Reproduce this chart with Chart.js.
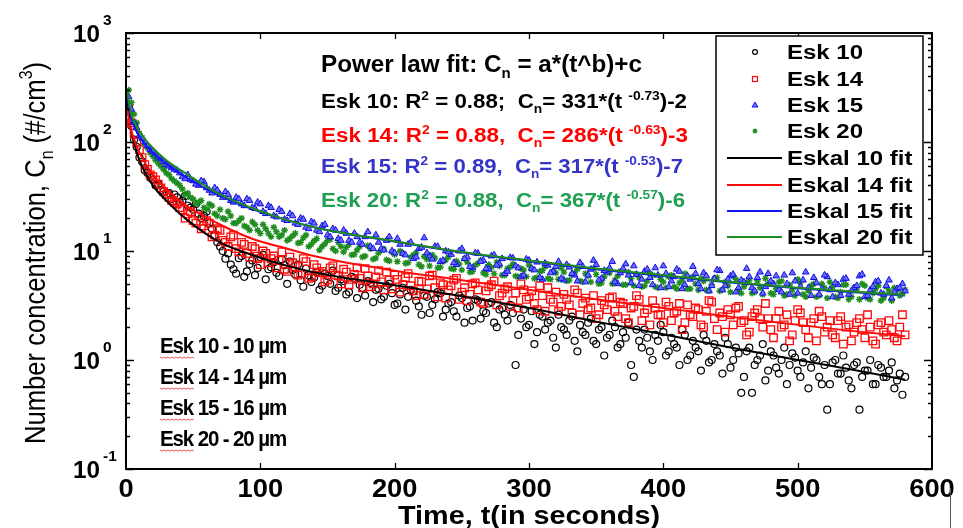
<!DOCTYPE html>
<html>
<head>
<meta charset="utf-8">
<script src="https://cdn.jsdelivr.net/npm/chart.js@4.4.0/dist/chart.umd.min.js"></script>
<style>
    html, body { margin: 0; padding: 0; background: #fff; }
    #wrap { width: 963px; height: 528px; }
</style>
</head>
<body>
<div id="wrap"><canvas id="chart" width="963" height="528"></canvas></div>
<script>
// Measured concentrations. "A" arrays: t = 2, 6, 10 ... 578 s; "B" arrays: t = 4, 8, 12 ... 580 s
const esk10A = [
    190, 105, 72, 55, 47, 40, 36, 33, 30, 31,
    29, 26, 24, 22, 21, 18, 14, 11, 8.5, 7.5,
    6.2, 9.0, 6.5, 8.2, 7.0, 9.2, 6.8, 7.9, 5.9, 7.4,
    8.0, 6.1, 5.4, 6.9, 5.2, 6.4, 4.8, 5.9, 6.6, 4.6,
    5.3, 4.2, 5.6, 4.9, 3.9, 5.1, 4.4, 3.6, 4.8, 4.1,
    3.3, 4.6, 3.8, 4.3, 3.1, 3.9, 2.7, 3.6, 4.1, 2.9,
    3.4, 2.5, 3.7, 3.0, 2.3, 3.5, 2.8, 3.3, 2.2, 2.9,
    2.6, 3.2, 0.9, 2.4, 2.0, 2.8, 1.8, 2.5, 2.2, 1.6,
    2.6, 1.9, 2.3, 1.5, 2.1, 1.7, 2.4, 1.4, 2.0, 1.6,
    2.3, 1.3, 1.8, 2.2, 0.7, 1.5, 1.9, 1.2, 1.7, 2.1,
    1.1, 1.6, 1.3, 1.9, 1.0, 1.5, 1.2, 1.7, 0.95, 1.4,
    1.1, 1.6, 0.85, 1.3, 0.5, 1.2, 0.5, 1.0, 1.4, 0.8,
    1.1, 0.75, 1.3, 0.9, 1.05, 0.7, 1.2, 0.85, 1.0, 0.6,
    0.35, 0.95, 0.75, 1.1, 0.65, 0.9, 0.35, 0.8, 1.0, 0.6,
    0.85, 0.7, 0.95, 0.65, 0.48
];
const esk10B = [
    140, 90, 66, 52, 45, 41, 35, 34, 33, 28,
    32, 25, 27, 20, 23, 16, 12, 10, 9.5, 6.8,
    8.6, 5.8, 7.6, 6.0, 8.8, 5.5, 7.1, 6.3, 8.4, 5.0,
    6.7, 7.5, 4.7, 6.0, 5.7, 4.4, 6.2, 5.0, 4.3, 5.5,
    4.0, 5.8, 3.7, 4.6, 5.3, 3.4, 4.5, 3.8, 5.0, 3.2,
    4.0, 2.9, 4.4, 3.5, 2.6, 3.8, 3.2, 4.2, 2.5, 3.3,
    2.8, 3.9, 2.2, 3.1, 3.6, 2.4, 2.7, 3.4, 2.0, 3.0,
    2.3, 2.7, 1.7, 2.9, 2.1, 1.4, 2.6, 1.9, 2.3, 1.3,
    2.0, 1.7, 2.5, 1.2, 1.8, 2.2, 1.5, 1.9, 1.1, 1.7,
    2.0, 1.4, 1.6, 0.9, 1.9, 1.3, 1.6, 1.0, 1.5, 1.8,
    1.2, 1.4, 0.9, 1.7, 1.1, 1.3, 0.8, 1.5, 1.0, 1.2,
    0.75, 1.4, 1.0, 1.15, 0.7, 1.3, 0.9, 1.1, 0.65, 1.2,
    0.85, 1.0, 0.6, 1.15, 0.8, 0.95, 0.55, 1.05, 0.7, 0.9,
    0.6, 1.0, 0.75, 0.85, 0.55, 0.95, 0.7, 0.8, 0.6, 0.9,
    0.7, 0.8, 0.55, 0.75, 0.7
];
const esk14A = [
    210, 120, 85, 62, 50, 45, 38, 33, 29, 27,
    24, 22, 19, 21, 17, 18, 14, 15.5, 12, 13.5,
    10.5, 12, 9.5, 11, 8.5, 10, 7.8, 9.0, 8.2, 6.8,
    8.8, 7.2, 6.2, 8.0, 5.8, 7.0, 6.5, 5.4, 7.3, 5.9,
    6.8, 4.9, 6.1, 5.6, 6.9, 4.7, 5.8, 5.2, 6.4, 4.5,
    5.5, 4.9, 6.2, 4.3, 5.3, 4.0, 5.9, 4.6, 5.1, 3.7,
    4.8, 5.6, 4.2, 3.5, 5.0, 4.4, 3.3, 4.7, 5.3, 3.9,
    4.5, 3.1, 4.1, 5.0, 3.6, 4.3, 2.9, 3.9, 4.6, 3.4,
    2.8, 4.0, 3.2, 4.4, 2.6, 3.7, 3.0, 2.4, 3.5, 2.9,
    3.8, 2.5, 3.3, 2.2, 3.1, 3.6, 2.7, 2.1, 3.0, 2.6,
    3.4, 2.3, 2.8, 1.9, 3.2, 2.5, 2.9, 2.0, 3.5, 2.4,
    2.7, 1.8, 2.6, 3.0, 2.2, 1.7, 2.5, 2.9, 2.0, 2.4,
    1.6, 2.8, 2.1, 1.5, 2.3, 2.7, 1.9, 2.2, 1.5, 2.5,
    2.0, 1.7, 2.3, 1.4, 2.1, 1.8, 2.4, 1.6, 2.0, 1.4,
    2.2, 1.7, 1.9, 1.5, 2.6
];
const esk14B = [
    150, 100, 72, 56, 48, 41, 35, 31, 28, 25,
    20, 23, 18, 16, 19, 13.5, 16, 12.5, 11, 14,
    9.8, 11.5, 8.8, 10.5, 7.5, 9.5, 8.5, 7.0, 9.8, 6.5,
    7.8, 6.0, 8.5, 5.6, 7.5, 6.3, 5.2, 7.0, 6.0, 5.0,
    6.4, 5.5, 7.0, 4.6, 5.9, 5.0, 6.6, 4.4, 5.4, 6.0,
    4.2, 5.7, 4.8, 3.9, 5.2, 4.5, 6.0, 3.8, 4.9, 4.4,
    5.4, 3.6, 4.6, 4.0, 5.1, 3.4, 4.3, 4.9, 3.2, 4.1,
    4.7, 3.5, 3.0, 4.4, 3.8, 3.3, 4.8, 2.8, 3.6, 4.2,
    3.1, 3.6, 2.7, 4.1, 3.3, 2.9, 3.9, 2.6, 3.2, 3.7,
    2.8, 3.4, 2.4, 3.0, 3.9, 2.3, 2.9, 3.5, 2.6, 2.2,
    3.1, 2.7, 3.3, 2.2, 2.6, 3.0, 2.1, 2.8, 3.4, 1.9,
    2.5, 2.9, 2.1, 3.1, 2.3, 1.8, 2.7, 2.4, 3.3, 1.9,
    2.4, 2.0, 2.6, 1.7, 2.9, 2.2, 1.6, 2.4, 2.8, 1.8,
    2.3, 1.6, 2.5, 2.0, 1.5, 2.2, 1.9, 2.6, 1.5, 2.1,
    1.8, 2.3, 1.6, 2.0, 1.7
];
const esk15A = [
    260, 150, 115, 100, 85, 78, 70, 62, 58, 55,
    48, 50, 44, 40, 43, 36, 38, 33, 35, 29,
    31, 27, 30, 25, 28, 23, 26, 21, 24, 19.5,
    22, 18, 20, 16.5, 18.5, 15.5, 17, 14, 16, 13,
    15.5, 12.5, 14.5, 12, 13.5, 11, 14, 10.5, 12.5, 10,
    13, 9.5, 11.5, 8.5, 10.5, 13.2, 9.0, 11, 8.0, 10,
    9.3, 7.5, 10.5, 8.8, 7.0, 9.5, 8.2, 6.8, 9.2, 7.6,
    6.2, 8.7, 7.3, 5.8, 8.4, 6.9, 7.9, 5.5, 7.4, 6.5,
    8.0, 5.4, 7.1, 6.0, 7.8, 5.2, 6.8, 7.5, 5.6, 6.4,
    8.0, 5.0, 6.9, 6.0, 7.3, 4.8, 6.5, 5.7, 7.0, 4.6,
    6.2, 5.3, 6.8, 4.5, 5.9, 7.2, 5.0, 6.3, 4.3, 5.6,
    6.6, 4.8, 5.9, 4.2, 5.4, 6.9, 4.6, 5.7, 4.1, 6.2,
    5.0, 4.4, 6.0, 4.0, 5.3, 4.7, 6.4, 3.9, 5.1, 4.5,
    5.8, 3.8, 4.9, 5.5, 4.0, 4.6, 5.9, 3.8, 4.4, 5.2,
    4.1, 4.8, 3.7, 4.5, 5.0
];
const esk15B = [
    200, 135, 108, 92, 82, 73, 66, 60, 56, 52,
    46, 45, 41, 44, 38, 34, 36, 31, 33, 28,
    30, 26, 29, 24.5, 27, 22, 25, 20.5, 23, 19,
    21, 17.5, 19.5, 16, 18, 15, 17.5, 13.5, 15.5, 12.5,
    14.5, 12, 13.5, 11.5, 15, 10.5, 12, 10.2, 13.5, 9.6,
    11.5, 9.2, 12, 8.8, 10.8, 9.6, 8.4, 11, 8.2, 9.8,
    7.8, 10, 8.5, 7.2, 9.6, 8.0, 6.9, 9.0, 7.4, 8.5,
    6.5, 8.6, 7.0, 6.0, 8.2, 6.7, 5.7, 7.7, 6.3, 7.2,
    5.6, 7.5, 6.2, 5.3, 7.2, 6.0, 8.2, 5.4, 6.6, 7.0,
    5.2, 6.3, 7.6, 5.1, 6.1, 5.5, 6.8, 4.9, 6.0, 7.3,
    4.7, 5.8, 6.5, 4.9, 5.5, 6.2, 4.5, 5.9, 4.8, 6.7,
    4.4, 5.5, 6.1, 4.6, 5.2, 5.8, 4.3, 6.4, 4.7, 5.3,
    5.9, 4.2, 5.0, 6.3, 4.1, 5.4, 4.6, 5.7, 4.0, 6.0,
    4.4, 5.1, 3.9, 5.6, 4.3, 4.8, 6.1, 3.9, 4.7, 5.3,
    4.0, 5.4, 4.2, 4.6, 4.3
];
const esk20A = [
    300, 180, 120, 95, 80, 68, 60, 52, 46, 42,
    37, 34, 30, 28, 25, 27, 22, 24, 19.5, 21,
    18, 20, 16.5, 18.5, 15.5, 17.5, 14.5, 16.5, 13.5, 15.5,
    13, 14.5, 12, 14, 11.5, 13, 11, 12.5, 10.5, 12,
    9.8, 11.5, 9.3, 11, 9.0, 10.5, 8.6, 10.2, 8.3, 9.8,
    8.0, 9.5, 7.8, 9.2, 7.5, 8.9, 7.3, 8.6, 7.1, 8.3,
    6.9, 8.1, 6.7, 7.9, 6.5, 7.7, 6.3, 7.5, 6.2, 7.3,
    6.0, 7.1, 5.9, 6.9, 5.8, 6.8, 5.7, 6.6, 5.6, 6.5,
    5.5, 6.4, 5.4, 6.3, 5.3, 6.2, 5.2, 6.1, 5.1, 6.6,
    5.0, 5.9, 4.9, 6.4, 4.8, 5.7, 4.8, 6.2, 4.7, 5.5,
    4.6, 6.0, 4.5, 5.4, 4.5, 5.8, 4.4, 5.3, 4.3, 5.6,
    4.3, 5.2, 4.2, 5.5, 4.1, 5.1, 4.1, 5.3, 4.0, 5.0,
    4.0, 5.2, 3.9, 4.9, 3.9, 5.1, 3.8, 4.8, 3.8, 5.0,
    3.7, 4.7, 3.7, 4.9, 3.6, 4.6, 3.6, 4.8, 3.6, 4.5,
    3.5, 4.7, 3.5, 4.4, 4.1
];
const esk20B = [
    230, 150, 110, 88, 74, 64, 56, 50, 44, 40,
    33, 31, 27, 29, 24, 26, 21, 20, 23, 18,
    19, 17, 15.5, 17.5, 14.5, 16, 13.5, 15, 14, 12.5,
    13.8, 11.8, 13.2, 11, 12.4, 10.2, 11.6, 12.8, 10, 11,
    10.8, 9.2, 10.2, 8.8, 11.2, 8.4, 9.6, 10.4, 8.1, 9.3,
    10, 7.7, 8.8, 9.6, 7.2, 8.4, 9.2, 7.0, 8.0, 8.8,
    6.8, 7.6, 8.5, 6.4, 7.4, 8.2, 6.1, 7.1, 7.9, 6.0,
    6.9, 7.6, 5.8, 6.7, 7.4, 5.6, 6.5, 7.2, 5.5, 6.3,
    7.0, 5.3, 6.1, 6.8, 5.2, 5.9, 6.9, 5.0, 5.8, 6.3,
    5.4, 6.5, 4.9, 5.6, 6.1, 4.7, 5.3, 6.0, 4.6, 5.2,
    5.8, 4.7, 5.1, 6.2, 4.5, 5.0, 5.6, 4.4, 4.9, 5.7,
    4.4, 4.8, 5.9, 4.3, 4.7, 5.4, 4.2, 4.6, 5.6, 4.1,
    4.5, 5.3, 4.0, 4.4, 5.5, 4.0, 4.3, 5.0, 3.9, 4.6,
    5.2, 3.8, 4.2, 4.9, 3.8, 4.4, 5.0, 3.7, 4.1, 4.8,
    3.7, 4.3, 4.6, 3.9, 4.4
];

// Power law fit curves
const fitTimes = [1, 3, 5, 10, 20, 30, 45, 70, 95, 120, 145, 200, 250, 300, 350, 400, 450, 500, 540, 580];
const fit10 = [250, 145, 110, 68, 40, 29, 19.5, 12, 9.1, 7.3, 6.2, 4.85, 3.85, 3.0, 2.25, 1.72, 1.3, 1.0, 0.82, 0.66];
const fit14 = [200, 140, 115, 80, 50, 37, 26, 17.5, 12.8, 10.5, 8.7, 6.6, 5.4, 4.4, 3.6, 3.0, 2.5, 2.1, 1.85, 1.65];
const fit15 = [270, 185, 150, 112, 80, 63, 47, 32, 24, 19.2, 16, 12.2, 9.7, 8.1, 6.8, 5.9, 5.15, 4.55, 4.2, 3.9];
const fit20 = [300, 200, 165, 125, 88, 68, 51, 33, 24.4, 19.2, 16, 12.3, 9.8, 8.2, 6.9, 6.0, 5.2, 4.6, 4.25, 3.95];

const xTicks = [0, 100, 200, 300, 400, 500, 600];
const yDecades = [-1, 0, 1, 2, 3];

const timesA = [];
const timesB = [];
for (let t = 2; t <= 578; t += 4) timesA.push(t);
for (let t = 4; t <= 580; t += 4) timesB.push(t);

const FONT = '"Liberation Sans", Arial, sans-serif';
const BLACK = '#000000';
const RED = '#ff0a0a';
const BLUE = '#1414f0';
const GREEN = '#1e8c1e';

function toPoints(times, vals) {
    return vals.map((v, i) => ({ x: times[i], y: v }));
}

function bothHalves(a, b) {
    return toPoints(timesA, a).concat(toPoints(timesB, b));
}

// Draw a run of text pieces, with sub / superscripts, optionally fitted to a width
function drawRich(ctx, parts, x, y, size, opts) {
    const weight = opts.weight || 'bold';
    const spacing = opts.spacing || 0;
    const runs = [];
    let w = 0;
    ctx.save();
    ctx.letterSpacing = spacing + 'px';
    parts.forEach(([t, kind]) => {
        const s = kind ? size * 0.62 : size;
        ctx.font = weight + ' ' + s + 'px ' + FONT;
        const rw = ctx.measureText(t).width;
        const dy = kind === 'sup' ? -size * 0.42 : kind === 'sub' ? size * 0.25 : 0;
        runs.push({ t, s, rw, dy });
        w += rw;
    });
    const sx = opts.width ? opts.width / w : (opts.sx || 1);
    ctx.translate(x, y);
    if (opts.rotate) ctx.rotate(opts.rotate);
    ctx.scale(sx, opts.sy || 1);
    ctx.fillStyle = opts.color || BLACK;
    ctx.textAlign = 'left';
    ctx.textBaseline = 'alphabetic';
    let cx = opts.align === 'center' ? -w / 2 : 0;
    runs.forEach(r => {
        ctx.font = weight + ' ' + r.s + 'px ' + FONT;
        ctx.fillText(r.t, cx, r.dy);
        cx += r.rw;
    });
    ctx.restore();
}

function drawMarker(ctx, style, x, y) {
    ctx.save();
    ctx.lineWidth = 1.2;
    if (style === 'circle') {
        ctx.strokeStyle = BLACK;
        ctx.beginPath();
        ctx.arc(x, y, 2.4, 0, Math.PI * 2);
        ctx.stroke();
    } else if (style === 'rect') {
        ctx.strokeStyle = RED;
        ctx.strokeRect(x - 2.5, y - 2.5, 5, 5);
    } else if (style === 'triangle') {
        ctx.fillStyle = '#7070ff';
        ctx.strokeStyle = BLUE;
        ctx.lineWidth = 1;
        ctx.beginPath();
        ctx.moveTo(x, y - 3);
        ctx.lineTo(x + 3, y + 2);
        ctx.lineTo(x - 3, y + 2);
        ctx.closePath();
        ctx.fill();
        ctx.stroke();
    } else {
        ctx.strokeStyle = GREEN;
        ctx.beginPath();
        for (let k = 0; k < 4; k++) {
            const a = k * Math.PI / 4;
            ctx.moveTo(x - 2.5 * Math.cos(a), y - 2.5 * Math.sin(a));
            ctx.lineTo(x + 2.5 * Math.cos(a), y + 2.5 * Math.sin(a));
        }
        ctx.stroke();
    }
    ctx.restore();
}

const decorations = {
    id: 'decorations',
    afterDraw(chart) {
        const ctx = chart.ctx;
        const area = chart.chartArea;
        const xs = chart.scales.x;
        const ys = chart.scales.y;

        // frame
        ctx.save();
        ctx.strokeStyle = BLACK;
        ctx.lineWidth = 2;
        ctx.strokeRect(area.left, area.top, area.right - area.left, area.bottom - area.top);

        // inward ticks on all four sides
        ctx.lineWidth = 1.3;
        ctx.beginPath();
        yDecades.forEach(d => {
            for (let k = 1; k <= 9; k++) {
                const v = k * Math.pow(10, d);
                if (v > 1000) break;
                const py = Math.round(ys.getPixelForValue(v)) + 0.5;
                const len = k === 1 ? 8 : 4;
                ctx.moveTo(area.left, py);
                ctx.lineTo(area.left + len, py);
                ctx.moveTo(area.right, py);
                ctx.lineTo(area.right - len, py);
            }
        });
        xTicks.slice(1, -1).forEach(t => {
            const px = Math.round(xs.getPixelForValue(t)) + 0.5;
            ctx.moveTo(px, area.bottom);
            ctx.lineTo(px, area.bottom - 6);
            ctx.moveTo(px, area.top);
            ctx.lineTo(px, area.top + 6);
        });
        ctx.stroke();
        ctx.restore();

        // x tick labels
        xTicks.forEach(t => {
            drawRich(ctx, [[String(t)]], xs.getPixelForValue(t), 497, 26, { align: 'center', sx: 1.05 });
        });

        // y tick labels 10^d
        yDecades.forEach(d => {
            const py = ys.getPixelForValue(Math.pow(10, d));
            drawRich(ctx, [['10']], 73, py + 9, 24, { width: 27 });
            drawRich(ctx, [[d < 0 ? '-' + Math.abs(d) : String(d)]], 103, py - 8.5, 15.5, {});
        });

        // axis titles
        drawRich(ctx, [['Time, t(in seconds)']], 529, 524, 25, { align: 'center', width: 262 });
        drawRich(ctx, [['Number concentration, C'], ['n', 'sub'], [' (#/cm'], ['3', 'sup'], [')']],
            45, 253, 25, { weight: 'normal', align: 'center', width: 382, sy: 1.2, rotate: -Math.PI / 2 });

        // fit equations
        drawRich(ctx, [['Power law fit: C'], ['n', 'sub'], [' = a*(t^b)+c']], 321, 72, 23, { width: 321 });
        const eqRows = [
            { color: BLACK, y: 108, w: 366, p: [['Esk 10: R'], ['2', 'sup'], [' = 0.88;  C'], ['n', 'sub'], ['= 331*(t '], ['-0.73', 'sup'], [')-2']] },
            { color: '#ff0000', y: 142, w: 367, p: [['Esk 14: R'], ['2', 'sup'], [' = 0.88,  C'], ['n', 'sub'], ['= 286*(t '], ['-0.63', 'sup'], [')-3']] },
            { color: '#3434c8', y: 173, w: 362, p: [['Esk 15: R'], ['2', 'sup'], [' = 0.89,  C'], ['n', 'sub'], ['= 317*(t '], ['-0.53', 'sup'], [')-7']] },
            { color: '#1ea052', y: 207, w: 364, p: [['Esk 20: R'], ['2', 'sup'], [' = 0.88,  C'], ['n', 'sub'], ['= 367*(t '], ['-0.57', 'sup'], [')-6']] }
        ];
        eqRows.forEach(r => drawRich(ctx, r.p, 321, r.y, 20, { width: r.w, color: r.color }));

        // size labels with the spell-check squiggle under "Esk"
        const sizeLabels = ['Esk 10 - 10 \u00b5m', 'Esk 14 - 14 \u00b5m', 'Esk 15 - 16 \u00b5m', 'Esk 20 - 20 \u00b5m'];
        const sizeRows = [353, 384, 415, 446];
        sizeLabels.forEach((s, i) => {
            drawRich(ctx, [[s]], 160, sizeRows[i], 22, { width: 126, spacing: -1.2 });
            ctx.save();
            ctx.strokeStyle = '#e03030';
            ctx.lineWidth = 0.8;
            ctx.beginPath();
            for (let x = 160; x <= 195; x += 2) {
                const yy = sizeRows[i] + 4 + ((x / 2) % 2 === 0 ? 0 : 1.2);
                if (x === 160) ctx.moveTo(x, yy); else ctx.lineTo(x, yy);
            }
            ctx.stroke();
            ctx.restore();
        });

        // legend
        ctx.save();
        ctx.fillStyle = '#fff';
        ctx.fillRect(716, 36, 207, 219);
        ctx.strokeStyle = BLACK;
        ctx.lineWidth = 1.5;
        ctx.strokeRect(716, 36, 207, 219);
        ctx.restore();
        const legendRows = [
            { label: 'Esk 10', marker: 'circle' },
            { label: 'Esk 14', marker: 'rect' },
            { label: 'Esk 15', marker: 'triangle' },
            { label: 'Esk 20', marker: 'star' },
            { label: 'Eskal 10 fit', line: BLACK },
            { label: 'Eskal 14 fit', line: RED },
            { label: 'Eskal 15 fit', line: BLUE },
            { label: 'Eskal 20 fit', line: GREEN }
        ];
        const legendY = [59, 86, 112, 138, 165, 192, 218, 244];
        legendRows.forEach((r, i) => {
            const y = legendY[i];
            if (r.marker) {
                drawMarker(ctx, r.marker, 755, y - 7);
            } else {
                ctx.save();
                ctx.strokeStyle = r.line;
                ctx.lineWidth = 2;
                ctx.beginPath();
                ctx.moveTo(727, y - 7);
                ctx.lineTo(782, y - 7);
                ctx.stroke();
                ctx.restore();
            }
            drawRich(ctx, [[r.label]], 787, y, 20, { sx: 1.2 });
        });

        // stray edge line at the bottom right of the figure
        ctx.save();
        ctx.strokeStyle = '#555';
        ctx.lineWidth = 1;
        ctx.beginPath();
        ctx.moveTo(950.5, 488);
        ctx.lineTo(950.5, 528);
        ctx.stroke();
        ctx.restore();
    }
};

const fitLine = (label, data, color, order) => ({
    label: label,
    data: toPoints(fitTimes, data),
    showLine: true,
    borderColor: color,
    borderWidth: 2,
    pointRadius: 0,
    fill: false,
    cubicInterpolationMode: 'monotone',
    order: order
});

const scatterSet = (label, data, style, radius, border, bg, width, order) => ({
    label: label,
    data: data,
    showLine: false,
    pointStyle: style,
    pointRadius: radius,
    borderColor: border,
    backgroundColor: bg,
    pointBorderWidth: width,
    order: order
});

new Chart(document.getElementById('chart'), {
    type: 'line',
    data: {
        datasets: [
            fitLine('Eskal 20 fit', fit20, GREEN, 0),
            fitLine('Eskal 15 fit', fit15, BLUE, 1),
            fitLine('Eskal 14 fit', fit14, RED, 2),
            fitLine('Eskal 10 fit', fit10, BLACK, 3),
            scatterSet('Esk 15', bothHalves(esk15A, esk15B), 'triangle', 3.8, '#1010e0', '#6a6aff', 1, 4),
            scatterSet('Esk 20', bothHalves(esk20A, esk20B), 'star', 3.3, GREEN, GREEN, 1.4, 5),
            scatterSet('Esk 14', bothHalves(esk14A, esk14B), 'rect', 5.3, RED, 'rgba(0,0,0,0)', 1.3, 6),
            scatterSet('Esk 10', bothHalves(esk10A, esk10B), 'circle', 3.5, BLACK, 'rgba(0,0,0,0)', 1.2, 7)
        ]
    },
    options: {
        responsive: false,
        animation: false,
        devicePixelRatio: 1,
        events: [],
        layout: { padding: { top: 33, right: 31, left: 0, bottom: 0 } },
        plugins: {
            legend: { display: false },
            tooltip: { enabled: false }
        },
        scales: {
            x: {
                type: 'linear',
                min: 0,
                max: 600,
                grid: { display: false },
                border: { display: false },
                ticks: { display: false },
                afterFit: s => { s.height = 59; }
            },
            y: {
                type: 'logarithmic',
                min: 0.1,
                max: 1000,
                grid: { display: false },
                border: { display: false },
                ticks: { display: false },
                afterFit: s => { s.width = 126; }
            }
        }
    },
    plugins: [decorations]
});
</script>
</body>
</html>
